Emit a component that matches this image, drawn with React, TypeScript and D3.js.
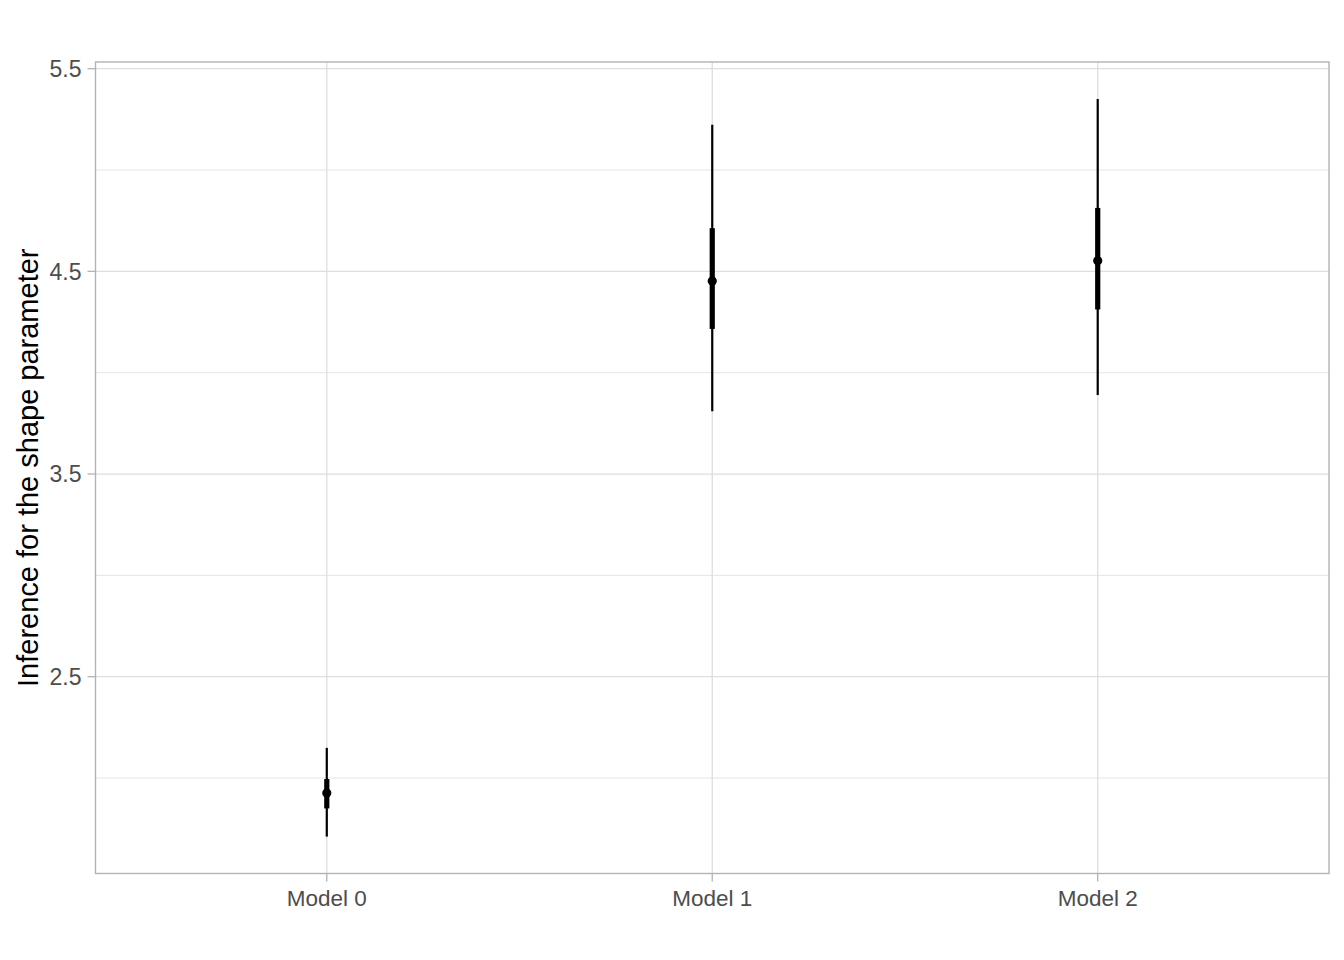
import * as d3 from "d3";
import { useEffect, useRef } from "react";

// posterior summaries for the shape parameter, one per model
const models = ["Model 0", "Model 1", "Model 2"];
const medians = [1.926, 4.452, 4.552];
const inner = [
  [1.85, 1.995],
  [4.216, 4.713],
  [4.312, 4.813],
];
const outer = [
  [1.711, 2.149],
  [3.81, 5.224],
  [3.89, 5.351],
];
const majorTicks = [2.5, 3.5, 4.5, 5.5];
const minorTicks = [2.0, 3.0, 4.0, 5.0];
const yLabel = "Inference for the shape parameter";

const width = 1344;
const height = 960;
const margins = { top: 62, right: 15, bottom: 86.5, left: 95.5 };

const drawChart = (target: any) => {
  const targetAccess = d3.select(target);
  const chart = d3
    .create("svg")
    .attr("width", width)
    .attr("height", height)
    .style("display", "block")
    .style("font-family", "'Liberation Sans', Arial, sans-serif");

  chart.append("rect").attr("width", width).attr("height", height).attr("fill", "#fff");

  const x0 = margins.left;
  const x1 = width - margins.right;
  const y0 = height - margins.bottom;
  const y1 = margins.top;

  // discrete axis with ggplot's 0.6 expansion
  const xScale = d3
    .scaleLinear()
    .domain([0.4, models.length + 0.6])
    .range([x0, x1]);
  const xPos = (i: number) => xScale(i + 1);

  const lo = d3.min(outer, (d) => d[0]) as number;
  const hi = d3.max(outer, (d) => d[1]) as number;
  const pad = (hi - lo) * 0.05;
  const yScale = d3
    .scaleLinear()
    .domain([lo - pad, hi + pad])
    .range([y0, y1]);

  const grid = chart.append("g");
  grid
    .selectAll("line.minor")
    .data(minorTicks)
    .join("line")
    .attr("x1", x0)
    .attr("x2", x1)
    .attr("y1", (d) => yScale(d))
    .attr("y2", (d) => yScale(d))
    .attr("stroke", "#DEDEDE")
    .attr("stroke-width", 0.8);
  grid
    .selectAll("line.major")
    .data(majorTicks)
    .join("line")
    .attr("x1", x0)
    .attr("x2", x1)
    .attr("y1", (d) => yScale(d))
    .attr("y2", (d) => yScale(d))
    .attr("stroke", "#DEDEDE")
    .attr("stroke-width", 1.3);
  grid
    .selectAll("line.vx")
    .data(models)
    .join("line")
    .attr("x1", (_, i) => xPos(i))
    .attr("x2", (_, i) => xPos(i))
    .attr("y1", y0)
    .attr("y2", y1)
    .attr("stroke", "#DEDEDE")
    .attr("stroke-width", 1.3);

  // intervals
  const marks = chart.append("g");
  marks
    .selectAll("line.outer")
    .data(outer)
    .join("line")
    .attr("x1", (_, i) => xPos(i))
    .attr("x2", (_, i) => xPos(i))
    .attr("y1", (d) => yScale(d[0]))
    .attr("y2", (d) => yScale(d[1]))
    .attr("stroke", "#000")
    .attr("stroke-width", 2.2);
  marks
    .selectAll("line.inner")
    .data(inner)
    .join("line")
    .attr("x1", (_, i) => xPos(i))
    .attr("x2", (_, i) => xPos(i))
    .attr("y1", (d) => yScale(d[0]))
    .attr("y2", (d) => yScale(d[1]))
    .attr("stroke", "#000")
    .attr("stroke-width", 5.2);
  marks
    .selectAll("circle")
    .data(medians)
    .join("circle")
    .attr("cx", (_, i) => xPos(i))
    .attr("cy", (d) => yScale(d))
    .attr("r", 4.6)
    .attr("fill", "#000");

  // panel border
  chart
    .append("rect")
    .attr("x", x0)
    .attr("y", y1)
    .attr("width", x1 - x0)
    .attr("height", y0 - y1)
    .attr("fill", "none")
    .attr("stroke", "#B3B3B3")
    .attr("stroke-width", 1.4);

  // y axis
  const yAxis = chart.append("g");
  yAxis
    .selectAll("line")
    .data(majorTicks)
    .join("line")
    .attr("x1", x0 - 8)
    .attr("x2", x0)
    .attr("y1", (d) => yScale(d))
    .attr("y2", (d) => yScale(d))
    .attr("stroke", "#B3B3B3")
    .attr("stroke-width", 1.3);
  yAxis
    .selectAll("text")
    .data(majorTicks)
    .join("text")
    .attr("x", x0 - 14)
    .attr("y", (d) => yScale(d))
    .attr("dy", "0.36em")
    .attr("text-anchor", "end")
    .attr("fill", "#4D4D4D")
    .style("font-size", "23px")
    .text((d) => d3.format(".1f")(d));

  // x axis
  const xAxis = chart.append("g");
  xAxis
    .selectAll("line")
    .data(models)
    .join("line")
    .attr("x1", (_, i) => xPos(i))
    .attr("x2", (_, i) => xPos(i))
    .attr("y1", y0)
    .attr("y2", y0 + 8)
    .attr("stroke", "#B3B3B3")
    .attr("stroke-width", 1.3);
  xAxis
    .selectAll("text")
    .data(models)
    .join("text")
    .attr("x", (_, i) => xPos(i))
    .attr("y", y0 + 32.5)
    .attr("text-anchor", "middle")
    .attr("fill", "#4D4D4D")
    .style("font-size", "22.5px")
    .text((d) => d);

  chart
    .append("text")
    .attr("transform", `translate(38,${(y0 + y1) / 2}) rotate(-90)`)
    .attr("text-anchor", "middle")
    .attr("fill", "#000")
    .style("font-size", "29px")
    .text(yLabel);

  targetAccess.selectAll("svg").remove();
  targetAccess.append(() => chart.node());
};

const App = () => {
  const targetRef = useRef();
  useEffect(() => {
    if (targetRef.current) drawChart(targetRef.current);
  }, []);
  return (
    <div
      style={{ width, height, position: "absolute", left: 0, top: 0 }}
      ref={targetRef as any}
    />
  );
};

export default App;
